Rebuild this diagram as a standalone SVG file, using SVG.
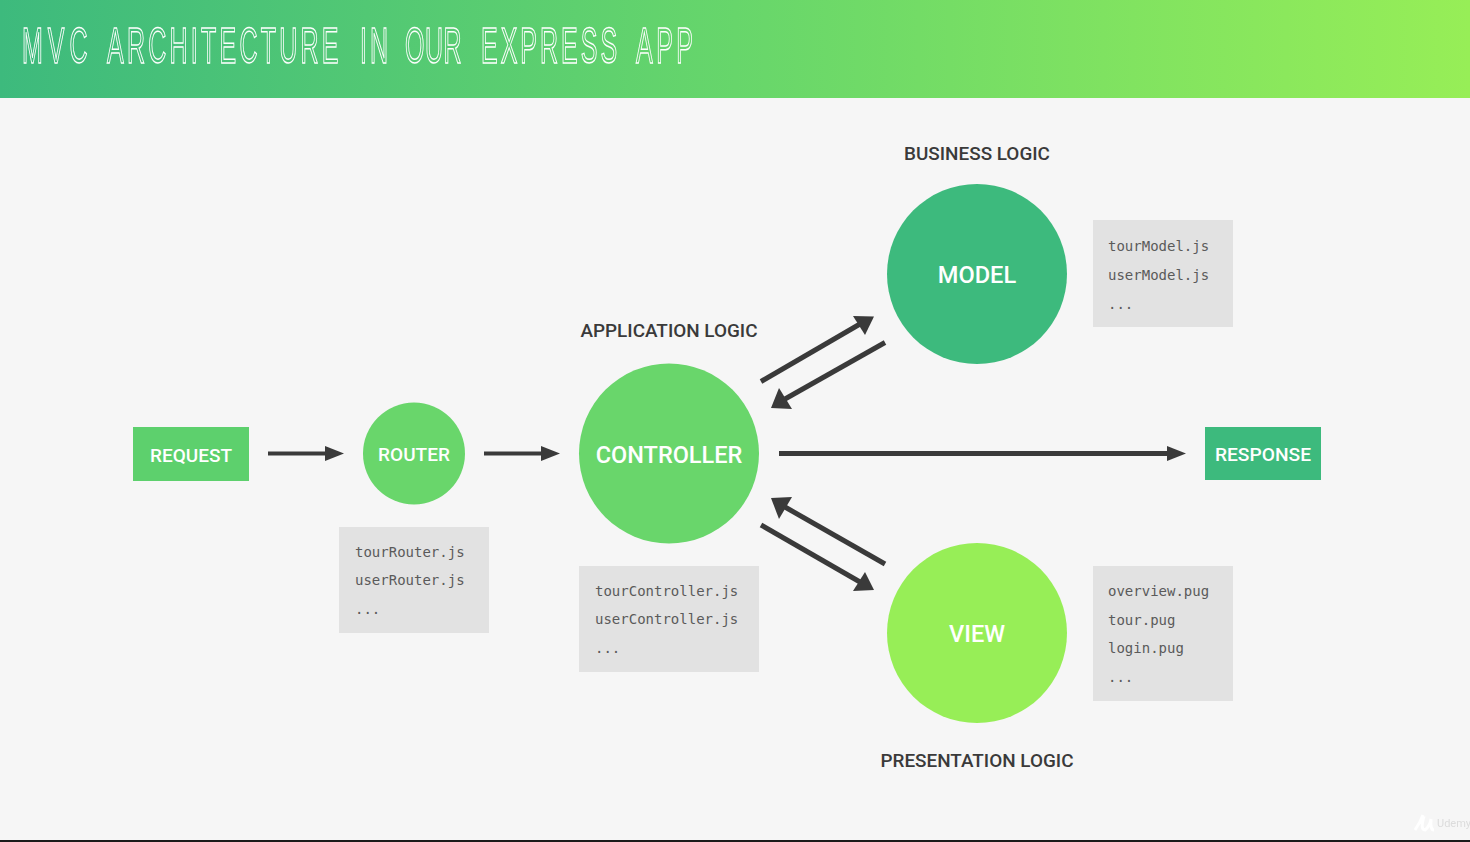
<svg xmlns="http://www.w3.org/2000/svg" width="1470" height="842" viewBox="0 0 1470 842">
<style>
text{font-family:"Roboto","Liberation Sans",sans-serif}
.w{fill:#fff;text-anchor:middle;font-weight:500}
.h{fill:#3a3a3a;text-anchor:middle;font-weight:500;font-size:18.9px}
.m{font-family:"DejaVu Sans Mono","Liberation Mono",monospace;font-size:14px;fill:#5a5a5a}
.box{fill:#e2e2e2}
.c{stroke:#3a3a3a;stroke-width:5;fill:none}
.c2{stroke:#3a3a3a;stroke-width:4;fill:none}
.a{fill:#3a3a3a}
.t{fill:none;stroke:#fff;stroke-width:1.5;vector-effect:non-scaling-stroke;font-family:"Liberation Sans",sans-serif;font-size:50px;letter-spacing:6px}
</style>
<defs>
<linearGradient id="g" x1="0" x2="1" y1="0" y2="0"><stop offset="0" stop-color="#3dba7d"/><stop offset="0.5" stop-color="#67d66b"/><stop offset="1" stop-color="#97ee57"/></linearGradient>
<filter id="b" x="-20%" y="-20%" width="140%" height="140%"><feGaussianBlur stdDeviation="0.6"/></filter>
</defs>
<rect width="1470" height="842" fill="#f6f6f6"/>
<rect y="840" width="1470" height="2" fill="#1a1a1a"/>
<g id="header">
<rect width="1470" height="98" fill="url(#g)"/>
<text class="t" transform="scale(0.5 1)" y="63" opacity="0.99"><tspan x="44" letter-spacing="10">MVC</tspan><tspan x="214" letter-spacing="6.500">ARCHITECTURE</tspan><tspan x="720" letter-spacing="6">IN</tspan><tspan x="810" letter-spacing="1">OUR</tspan><tspan x="962" letter-spacing="6">EXPRESS</tspan><tspan x="1272" letter-spacing="7">APP</tspan></text>
</g>
<g id="connectors">
<path class="c2" d="M268 453.500H328"/><polygon class="a" points="344,453.500 325,446 325,461"/>
<path class="c2" d="M484 453.500H544"/><polygon class="a" points="560,453.500 541,446 541,461"/>
<path class="c" d="M779 453.500H1170"/><polygon class="a" points="1186,453.500 1167,446 1167,461"/>
<path class="c" d="M761 381.500L860 324"/><polygon class="a" points="874,316.500 853,316 865,335"/>
<path class="c" d="M885 342.500L785 399"/><polygon class="a" points="771,408 792,409 779,388"/>
<path class="c" d="M885 564L785 507"/><polygon class="a" points="771,498 779,519 792,497"/>
<path class="c" d="M761 525L860 582"/><polygon class="a" points="874,590 865,572 853,591"/>
</g>
<g id="request"><rect x="133" y="427" width="116" height="54" fill="#5dd06d"/><text class="w" x="191" y="462" font-size="19">REQUEST</text></g>
<g id="router"><circle cx="414" cy="453.500" r="51" fill="#69d66b"/><text class="w" x="414" y="461" font-size="19">ROUTER</text></g>
<g id="router-files"><rect class="box" x="339" y="527" width="150" height="106"/><text class="m" x="355" y="556.500">tourRouter.js</text><text class="m" x="355" y="585">userRouter.js</text><text class="m" x="355" y="614">...</text></g>
<g id="controller"><circle cx="669" cy="453.500" r="90" fill="#69d66b"/><text class="w" x="669" y="463" font-size="23.500">CONTROLLER</text><text class="h" x="669" y="337">APPLICATION LOGIC</text></g>
<g id="controller-files"><rect class="box" x="579" y="566" width="180" height="106"/><text class="m" x="595" y="595.500">tourController.js</text><text class="m" x="595" y="624">userController.js</text><text class="m" x="595" y="653">...</text></g>
<g id="model"><circle cx="977" cy="274" r="90" fill="#3dba7d"/><text class="w" x="977" y="283" font-size="23.600">MODEL</text><text class="h" x="977" y="160">BUSINESS LOGIC</text></g>
<g id="model-files"><rect class="box" x="1093" y="220" width="140" height="107"/><text class="m" x="1108" y="250.500">tourModel.js</text><text class="m" x="1108" y="279.500">userModel.js</text><text class="m" x="1108" y="309">...</text></g>
<g id="view"><circle cx="977" cy="633" r="90" fill="#97ee57"/><text class="w" x="977" y="641.500" font-size="23.600">VIEW</text><text class="h" x="977" y="766.500">PRESENTATION LOGIC</text></g>
<g id="view-files"><rect class="box" x="1093" y="566" width="140" height="135"/><text class="m" x="1108" y="595.500">overview.pug</text><text class="m" x="1108" y="624.500">tour.pug</text><text class="m" x="1108" y="652.500">login.pug</text><text class="m" x="1108" y="682">...</text></g>
<g id="response"><rect x="1205" y="427" width="116" height="53" fill="#3dba7d"/><text class="w" x="1263" y="461" font-size="19.200">RESPONSE</text></g>
<g id="watermark" filter="url(#b)"><path d="M1415 830Q1420 823 1423 815M1424 816Q1420 830 1425 830Q1430 826 1431 819Q1430 830 1434 830" fill="none" stroke="#fff" stroke-width="3"/><text x="1437" y="827" font-size="11" fill="#dcdcdc">Udemy</text></g>
</svg>
